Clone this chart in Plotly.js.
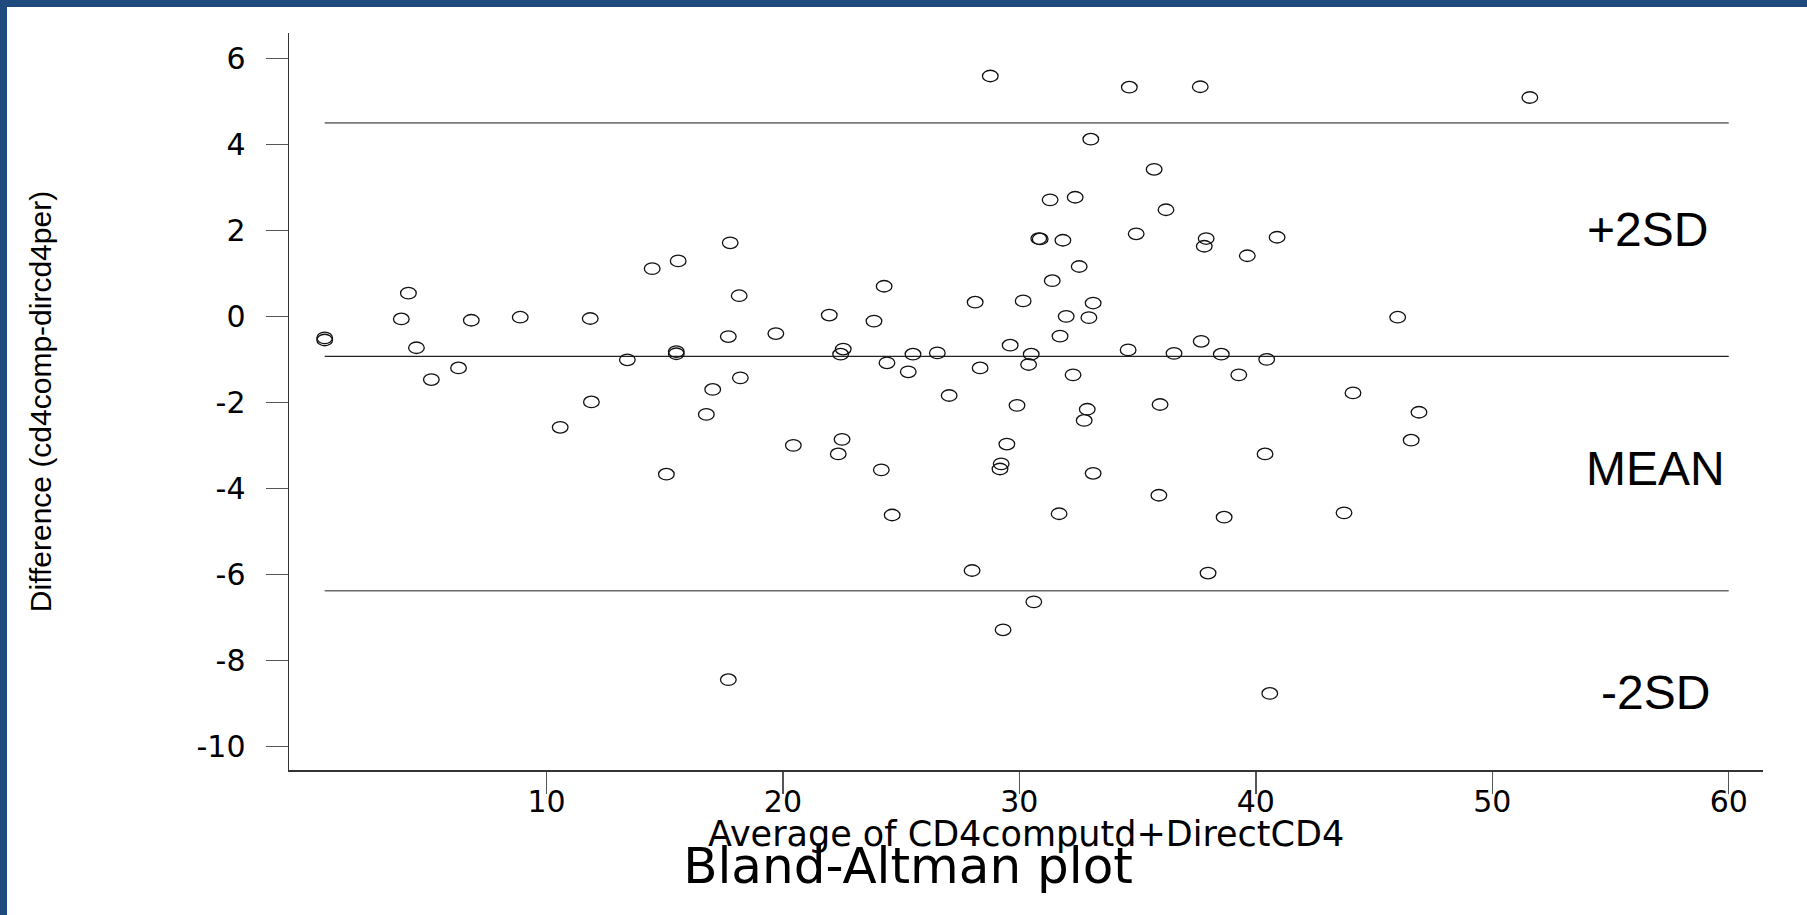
<!DOCTYPE html>
<html>
<head>
<meta charset="utf-8">
<script src="https://cdn.plot.ly/plotly-3.0.1.min.js"></script>
<style>
  html, body { margin: 0; padding: 0; background: #ffffff; overflow: hidden; }
  #wrap { position: relative; width: 1807px; height: 915px; }
  #chart { position: absolute; left: 0; top: 0; width: 1807px; height: 915px; }
  .bar-top { position: absolute; left: 0; top: 0; width: 1807px; height: 7px; background: #1F4A7E; }
  .bar-left { position: absolute; left: 0; top: 0; width: 7px; height: 915px; background: #1F4A7E; }
</style>
</head>
<body>
<div id="wrap">
  <div id="chart"></div>
  <div class="bar-top"></div>
  <div class="bar-left"></div>
</div>
<script>
// Average of the two methods (x) and their difference (y)
const averageCD4 = [
  0.62, 0.62, 3.86, 4.16, 4.50, 5.13, 6.28, 6.82, 8.89, 10.58,
  11.85, 11.90, 13.42, 14.47, 15.07, 15.49, 15.49, 15.57, 16.76, 17.03,
  17.69, 17.77, 17.69, 18.15, 18.20, 19.70, 20.44, 21.96, 22.34, 22.50,
  22.55, 22.44, 23.85, 24.16, 24.28, 24.40, 24.62, 25.30, 25.50, 26.53,
  27.03, 28.00, 28.13, 28.34, 28.77, 29.31, 29.23, 29.18, 29.47, 29.61,
  29.90, 30.16, 30.39, 30.50, 30.61, 30.82, 30.88, 31.30, 31.39, 31.68,
  31.72, 31.84, 31.98, 32.27, 32.36, 32.53, 32.74, 32.87, 32.94, 33.02,
  33.12, 33.12, 34.65, 34.60, 34.94, 35.70, 35.95, 35.90, 36.20, 36.54,
  37.65, 37.69, 37.82, 37.90, 37.98, 38.54, 38.66, 39.28, 39.64, 40.39,
  40.46, 40.59, 40.90, 43.73, 44.11, 46.00, 46.57, 46.90, 51.59
];
const differenceCD4 = [
  -0.50, -0.55, -0.06, 0.54, -0.73, -1.47, -1.20, -0.09, -0.02, -2.58,
  -0.05, -1.99, -1.01, 1.11, -3.67, -0.82, -0.87, 1.29, -2.28, -1.70,
  -0.47, 1.71, -8.45, 0.48, -1.43, -0.40, -3.00, 0.03, -3.20, -2.86,
  -0.76, -0.88, -0.11, -3.57, 0.70, -1.08, -4.62, -1.29, -0.88, -0.85,
  -1.84, -5.91, 0.33, -1.20, 5.59, -7.29, -3.43, -3.55, -2.97, -0.67,
  -2.07, 0.36, -1.12, -0.88, -6.64, 1.81, 1.80, 2.71, 0.83, -4.59,
  -0.46, 1.77, 0.00, -1.36, 2.77, 1.16, -2.42, -2.16, -0.03, 4.12,
  0.31, -3.65, 5.33, -0.78, 1.92, 3.42, -2.05, -4.16, 2.48, -0.86,
  5.34, -0.58, 1.63, 1.81, -5.97, -0.88, -4.67, -1.36, 1.41, -3.20,
  -1.00, -8.77, 1.84, -4.57, -1.78, -0.02, -2.88, -2.23, 5.09
];

// Reference lines (mean difference and limits of agreement)
const limitSpanX = [0.62, 60];
const upperLimit = 4.50;
const meanDiff = -0.93;
const lowerLimit = -6.38;

const limitLabels = ["+2SD", "MEAN", "-2SD"];
const limitLabelY = [2.03, -3.53, -8.75];
const limitLabelX = [56.55, 56.9, 56.9];

const xTickVals = [10, 20, 30, 40, 50, 60];
const xTickText = ["10", "20", "30", "40", "50", "60"];
const yTickVals = [-10, -8, -6, -4, -2, 0, 2, 4, 6];
const yTickText = ["-10", "-8", "-6", "-4", "-2", "0", "2", "4", "6"];

const xTitle = "Average of CD4computd+DirectCD4";
const yTitle = "Difference (cd4comp-dircd4per)";
const chartTitle = "Bland-Altman plot";

const traces = [
  {
    x: limitSpanX, y: limitSpanX.map(() => upperLimit),
    mode: "lines", type: "scatter", hoverinfo: "skip",
    line: { color: "#7a7a7a", width: 1.6 }
  },
  {
    x: limitSpanX, y: limitSpanX.map(() => meanDiff),
    mode: "lines", type: "scatter", hoverinfo: "skip",
    line: { color: "#222222", width: 1.2 }
  },
  {
    x: limitSpanX, y: limitSpanX.map(() => lowerLimit),
    mode: "lines", type: "scatter", hoverinfo: "skip",
    line: { color: "#6a6a6a", width: 1.6 }
  },
  {
    x: averageCD4, y: differenceCD4,
    mode: "markers", type: "scatter",
    marker: { symbol: "circle-open", size: 11.5, color: "#111", line: { width: 1.3, color: "#111" } }
  }
];

const tickFont = { family: "DejaVu Sans, Liberation Sans, Arial, sans-serif", size: 30, color: "#000" };

const layout = {
  width: 1807, height: 915,
  margin: { l: 289, r: 44, t: 33, b: 145, pad: 0 },
  paper_bgcolor: "#ffffff", plot_bgcolor: "#ffffff",
  showlegend: false,
  title: {
    text: chartTitle,
    font: { family: "DejaVu Sans, Liberation Sans, Arial, sans-serif", size: 50, color: "#000" },
    xref: "container", yref: "container",
    x: 0.5025, xanchor: "center",
    y: 0.0536, yanchor: "middle"
  },
  xaxis: {
    range: [-0.89, 61.45],
    tickvals: xTickVals, ticktext: xTickText,
    ticks: "outside", ticklen: 22, tickwidth: 1.4, tickcolor: "#555",
    ticklabelstandoff: -18,
    showline: true, linecolor: "#333", linewidth: 1.5,
    showgrid: false, zeroline: false,
    tickfont: tickFont
  },
  yaxis: {
    range: [-10.55, 6.59],
    tickvals: yTickVals, ticktext: yTickText,
    ticks: "outside", ticklen: 22, tickwidth: 1.4, tickcolor: "#555",
    ticklabelstandoff: 14,
    showline: true, linecolor: "#333", linewidth: 1.5,
    showgrid: false, zeroline: false,
    tickfont: tickFont,
    title: {
      text: yTitle,
      font: { family: "Liberation Sans, Arial, sans-serif", size: 30, color: "#000" },
      standoff: 136
    }
  },
  annotations: limitLabels.map((t, i) => ({
    x: limitLabelX[i], y: limitLabelY[i], xref: "x", yref: "y",
    text: t, showarrow: false, xanchor: "center", yanchor: "middle",
    font: { family: "Liberation Sans, Arial, sans-serif", size: 48, color: "#000" }
  })).concat([{
    x: 0.5, y: -0.087, xref: "paper", yref: "paper",
    text: xTitle, showarrow: false, xanchor: "center", yanchor: "middle",
    font: { family: "DejaVu Sans, Liberation Sans, Arial, sans-serif", size: 35, color: "#000" }
  }])
};

Plotly.newPlot("chart", traces, layout, { displayModeBar: false, staticPlot: true }).then(() => {
  // stretch the open circles horizontally into ellipses, as in the original
  document.querySelectorAll("#chart .scatterlayer .trace path.point").forEach(p => {
    const t = p.getAttribute("transform") || "";
    p.setAttribute("transform", t + " scale(1.36,1)");
    p.style.vectorEffect = "non-scaling-stroke";
  });
});
</script>
</body>
</html>
